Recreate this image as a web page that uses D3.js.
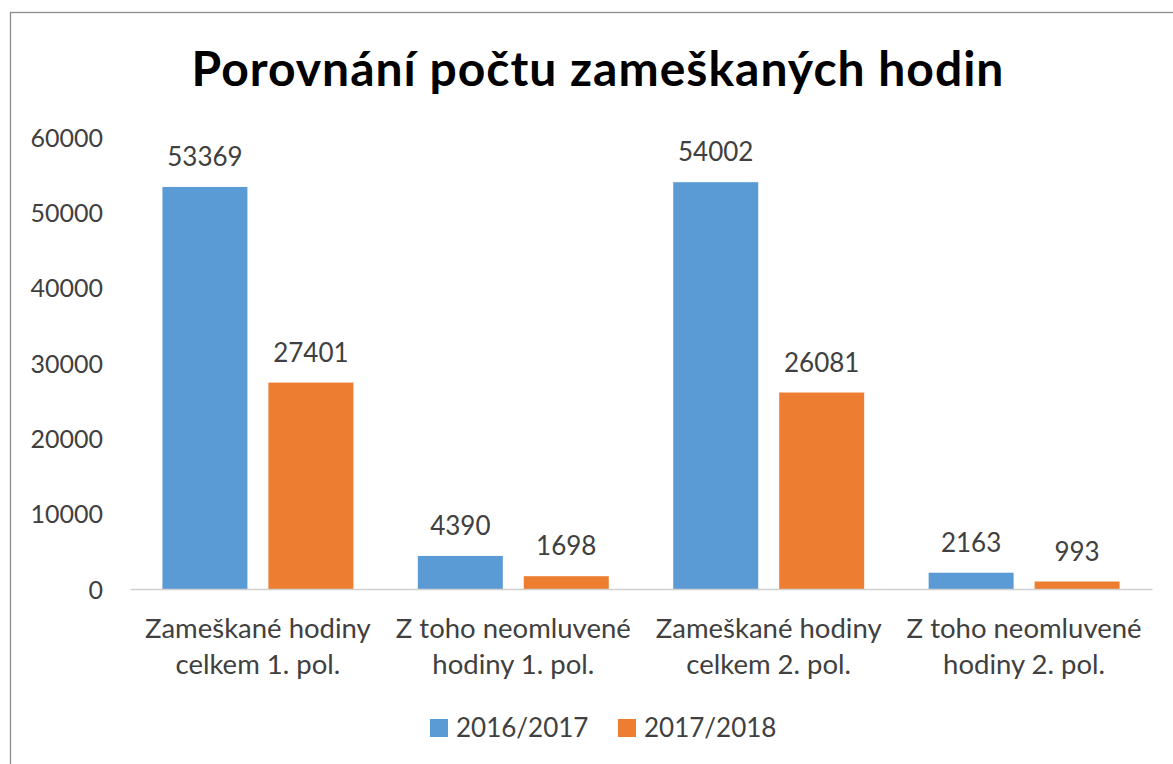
<!DOCTYPE html>
<html><head><meta charset="utf-8">
<script src="https://cdn.jsdelivr.net/npm/d3@7"></script>
<style>body{margin:0;background:#fff}svg{display:block}</style>
</head><body>
<svg id="c" width="1173" height="764"></svg>
<script>
const title = "Porovnání počtu zameškaných hodin";
const categories = [
  ["Zameškané hodiny", "celkem 1. pol."],
  ["Z toho neomluvené", "hodiny 1. pol."],
  ["Zameškané hodiny", "celkem 2. pol."],
  ["Z toho neomluvené", "hodiny 2. pol."]
];
const seriesNames = ["2016/2017", "2017/2018"];
const values2016 = [53369, 4390, 54002, 2163];
const values2017 = [27401, 1698, 26081, 993];
const yTicks = [0, 10000, 20000, 30000, 40000, 50000, 60000];
const colors = ["#5B9BD5", "#ED7D31"];

(function () {
const svg = d3.select("#c");
const font = "Lato, 'Open Sans', sans-serif";
const pLeft = 130, pRight = 1152, pTop = 137, pBottom = 589;

// border
svg.append("rect").attr("x", 10.5).attr("y", 12.5).attr("width", 1200).attr("height", 800)
  .attr("fill", "none").attr("stroke", "#8c8c8c").attr("stroke-width", 1.3);

const x0 = d3.scaleBand().domain(d3.range(categories.length)).range([pLeft, pRight]).paddingInner(0.2524).paddingOuter(0.127);
const x1 = d3.scaleBand().domain([0, 1]).range([0, x0.bandwidth()]).paddingInner(0.198);
const y = d3.scaleLinear().domain([0, 60000]).range([pBottom, pTop]);

const data = categories.map((c, i) => ({i, vals: [values2016[i], values2017[i]]}));

// y axis labels
const yAxis = d3.axisLeft(y).tickValues(yTicks).tickSize(0).tickPadding(0).tickFormat(d3.format("d"));
const ga = svg.append("g").attr("transform", `translate(103,0)`).call(yAxis);
ga.select(".domain").remove();
ga.selectAll("text").attr("font-family", font).attr("font-size", 25).attr("fill", "#404040").attr("dy", "0.36em");

// bars
const g = svg.append("g");
const groups = g.selectAll("g.cat").data(data).join("g").attr("class", "cat")
  .attr("transform", d => `translate(${x0(d.i)},0)`);
groups.selectAll("rect").data(d => d.vals.map((v, k) => ({v, k}))).join("rect")
  .attr("x", d => x1(d.k)).attr("width", x1.bandwidth())
  .attr("y", d => y(d.v)).attr("height", d => y(0) - y(d.v))
  .attr("fill", d => colors[d.k]);
groups.selectAll("text.lbl").data(d => d.vals.map((v, k) => ({v, k}))).join("text").attr("class", "lbl")
  .attr("x", d => x1(d.k) + x1.bandwidth() / 2).attr("y", d => y(d.v) - 21)
  .attr("text-anchor", "middle").attr("font-family", font).attr("font-size", 26).attr("fill", "#404040")
  .text(d => d.v);

// baseline
const xAxis = d3.axisBottom(x0).tickSize(0).tickFormat("");
const gx = svg.append("g").attr("transform", `translate(0,${pBottom})`).call(xAxis);
gx.select(".domain").attr("stroke", "#d0d0d0").attr("stroke-width", 1.5);

// category labels
categories.forEach((c, i) => {
  const t = svg.append("text").attr("text-anchor", "middle").attr("font-family", font)
    .attr("font-size", 27.5).attr("fill", "#404040");
  c.forEach((line, j) => t.append("tspan").attr("x", x0(i) + x0.bandwidth() / 2).attr("y", 638 + j * 36).text(line));
});

// title
svg.append("text").attr("x", 598).attr("y", 86).attr("text-anchor", "middle")
  .attr("font-family", font).attr("font-weight", "bold").attr("font-size", 48)
  .attr("letter-spacing", 1).attr("fill", "#000")
  .text(title);

// legend
const leg = svg.append("g");
const legX = [430, 618];
seriesNames.forEach((s, k) => {
  leg.append("rect").attr("x", legX[k]).attr("y", 719).attr("width", 18).attr("height", 18).attr("fill", colors[k]);
  leg.append("text").attr("x", legX[k] + 26).attr("y", 737).attr("font-family", font).attr("font-size", 26)
    .attr("fill", "#404040").text(s);
});
})();
</script>
</body></html>
